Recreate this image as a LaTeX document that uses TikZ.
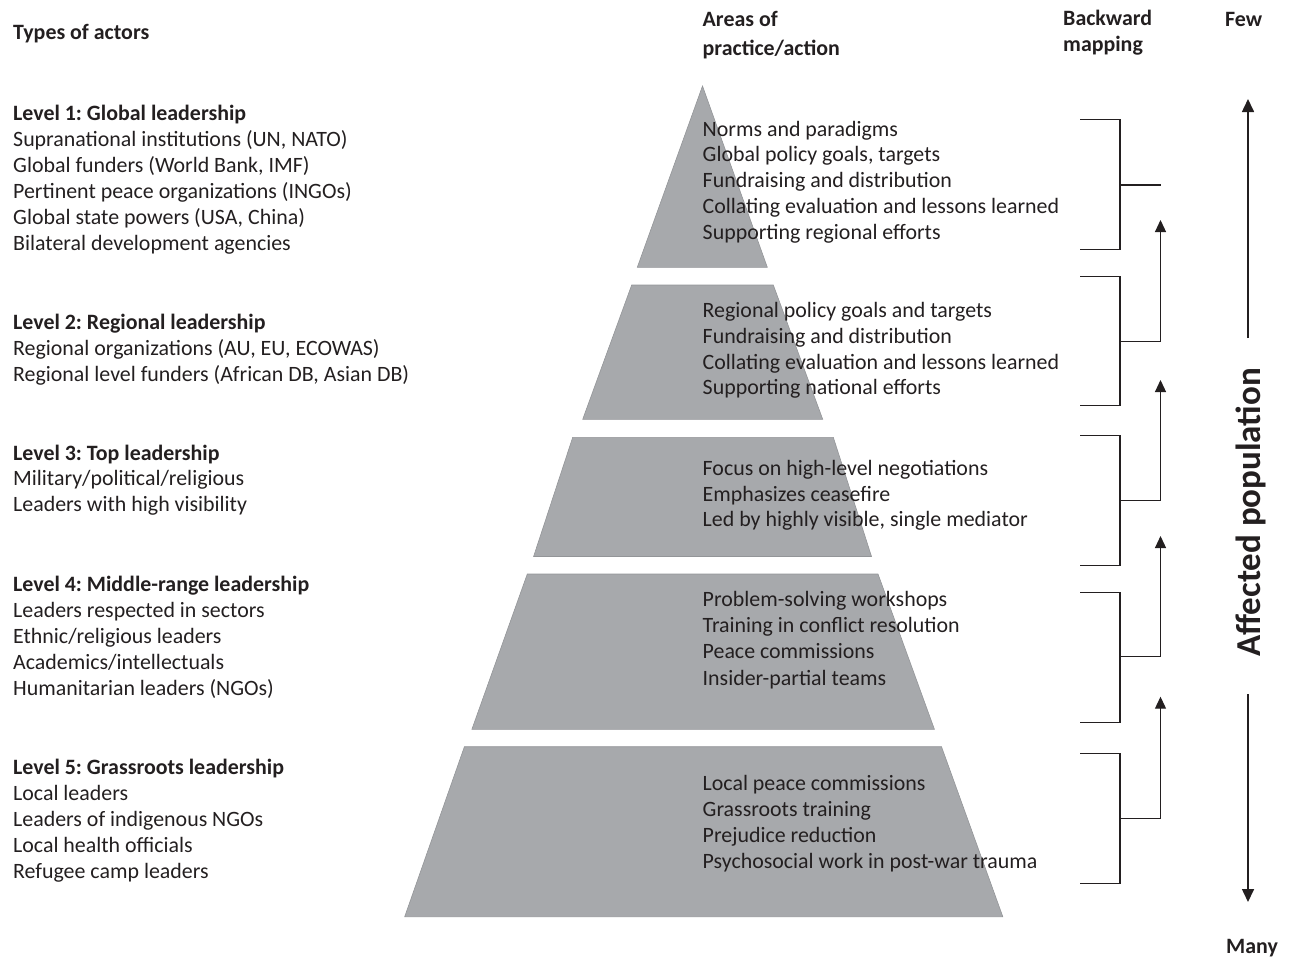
\documentclass[tikz,border=0pt]{standalone}
\usepackage{fontspec}
\setmainfont{Carlito}
\usetikzlibrary{arrows.meta}
\definecolor{ink}{HTML}{231F20}
\definecolor{tierfill}{HTML}{A7A9AC}
\definecolor{tieredge}{HTML}{939598}
\frenchspacing
\begin{document}
\begin{tikzpicture}[x=1pt,y=-1pt,
  txt/.style={anchor=base west, inner sep=0pt, text=ink, font=\fontsize{21.9}{26}\selectfont},
  hd/.style={anchor=base west, inner sep=0pt, text=ink, font=\fontsize{21.9}{26}\selectfont\bfseries},
  tier/.style={fill=tierfill, draw=tieredge, line width=0.6pt},
  brk/.style={draw=ink, line width=1.2pt},
  up/.style={brk, -{Triangle[length=12pt,width=11pt]}},
  big/.style={draw=ink, line width=1.6pt, -{Triangle[length=13pt,width=12pt]}}]
\useasboundingbox (0,0) rectangle (1290,959);

% pyramid tiers
\path[tier] (702.5,86) -- (767.3,267.3) -- (637.3,267.3) -- cycle;
\path[tier] (631.7,285) -- (773.3,285) -- (822.7,419.3) -- (582.7,419.3) -- cycle;
\path[tier] (572.7,437.3) -- (833.3,437.3) -- (871.5,556.5) -- (533.6,556.5) -- cycle;
\path[tier] (527.3,574) -- (878,574) -- (934.4,729.3) -- (471.9,729.3) -- cycle;
\path[tier] (464.4,746.7) -- (941.5,746.7) -- (1002.8,916.7) -- (404.7,916.7) -- cycle;

% headers
\node[hd] (types) at (13,39.3) {Types of actors};
\node[hd] (areas1) at (702.5,26.7) {Areas of};
\node[hd] (areas2) at (702.5,55) {practice/action};
\node[hd] (back1) at (1063,25) {Backward};
\node[hd] (back2) at (1063,51) {mapping};
\node[hd] (few) at (1225,26.7) {Few};
\node[hd] (many) at (1226,953) {Many};

% left column
\node[hd] (lv1) at (13,120) {Level 1: Global leadership};
\foreach \y/\t [count=\i] in {146.7/{Supranational institutions (UN, NATO)},172.7/{Global funders (World Bank, IMF)},198.7/{Pertinent peace organizations (INGOs)},224.5/{Global state powers (USA, China)},250.3/{Bilateral development agencies}}
  \node[txt] (a1-\i) at (13,\y) {\t};
\node[hd] (lv2) at (13,329.3) {Level 2: Regional leadership};
\foreach \y/\t [count=\i] in {355.3/{Regional organizations (AU, EU, ECOWAS)},381.3/{Regional level funders (African DB, Asian DB)}}
  \node[txt] (a2-\i) at (13,\y) {\t};
\node[hd] (lv3) at (13,460) {Level 3: Top leadership};
\foreach \y/\t [count=\i] in {485.8/{Military/political/religious},511.7/{Leaders with high visibility}}
  \node[txt] (a3-\i) at (13,\y) {\t};
\node[hd] (lv4) at (13,591.7) {Level 4: Middle-range leadership};
\foreach \y/\t [count=\i] in {617.7/{Leaders respected in sectors},643.7/{Ethnic/religious leaders},669.7/{Academics/intellectuals},695.7/{Humanitarian leaders (NGOs)}}
  \node[txt] (a4-\i) at (13,\y) {\t};
\node[hd] (lv5) at (13,774.5) {Level 5: Grassroots leadership};
\foreach \y/\t [count=\i] in {800.5/{Local leaders},826.5/{Leaders of indigenous NGOs},852.5/{Local health officials},878.5/{Refugee camp leaders}}
  \node[txt] (a5-\i) at (13,\y) {\t};

% pyramid texts
\foreach \y/\t [count=\i] in {136/{Norms and paradigms},161.7/{Global policy goals, targets},187.7/{Fundraising and distribution},213.3/{Collating evaluation and lessons learned},239.3/{Supporting regional efforts}}
  \node[txt] (p1-\i) at (702.5,\y) {\t};
\foreach \y/\t [count=\i] in {317.3/{Regional policy goals and targets},343.3/{Fundraising and distribution},369/{Collating evaluation and lessons learned},394.7/{Supporting national efforts}}
  \node[txt] (p2-\i) at (702.5,\y) {\t};
\foreach \y/\t [count=\i] in {475/{Focus on high-level negotiations},501/{Emphasizes ceasefire},526.7/{Led by highly visible, single mediator}}
  \node[txt] (p3-\i) at (702.5,\y) {\t};
\foreach \y/\t [count=\i] in {606.7/{Problem-solving workshops},632.7/{Training in conflict resolution},658.3/{Peace commissions},685/{Insider-partial teams}}
  \node[txt] (p4-\i) at (702.5,\y) {\t};
\foreach \y/\t [count=\i] in {790.3/{Local peace commissions},816.3/{Grassroots training},842.3/{Prejudice reduction},868.3/{Psychosocial work in post-war trauma}}
  \node[txt] (p5-\i) at (702.5,\y) {\t};

% backward mapping brackets
\foreach \k/\tp/\bt/\md in {1/119.3/249.3/185,2/276.7/405.7/341.7,3/435.7/565.7/500.7,4/592.7/722.3/656.7,5/753.3/883.3/818.3}{
  \coordinate (b\k-t) at (1080,\tp);
  \coordinate (b\k-b) at (1080,\bt);
  \coordinate (b\k-m) at (1120,\md);
  \coordinate (b\k-e) at (1160.5,\md);
  \draw[brk] (b\k-t) -| (b\k-m) |- (b\k-b);
}
\coordinate (tip1) at (1160.5,220);
\coordinate (tip2) at (1160.5,380);
\coordinate (tip3) at (1160.5,536);
\coordinate (tip4) at (1160.5,696.7);
\draw[brk] (b1-m) -- (b1-e);
\draw[up] (b2-m) -- (b2-e) -- (tip1);
\draw[up] (b3-m) -- (b3-e) -- (tip2);
\draw[up] (b4-m) -- (b4-e) -- (tip3);
\draw[up] (b5-m) -- (b5-e) -- (tip4);

% affected population axis
\coordinate (fewA) at (1248,338);
\coordinate (fewB) at (1248,99);
\coordinate (manyA) at (1248,694);
\coordinate (manyB) at (1248,902);
\draw[big] (fewA) -- (fewB);
\draw[big] (manyA) -- (manyB);
\node[rotate=90, anchor=base, inner sep=0pt, text=ink, font=\fontsize{35}{40}\selectfont\bfseries] (aff) at (1260,512.5) {Affected population};
\end{tikzpicture}
\end{document}
